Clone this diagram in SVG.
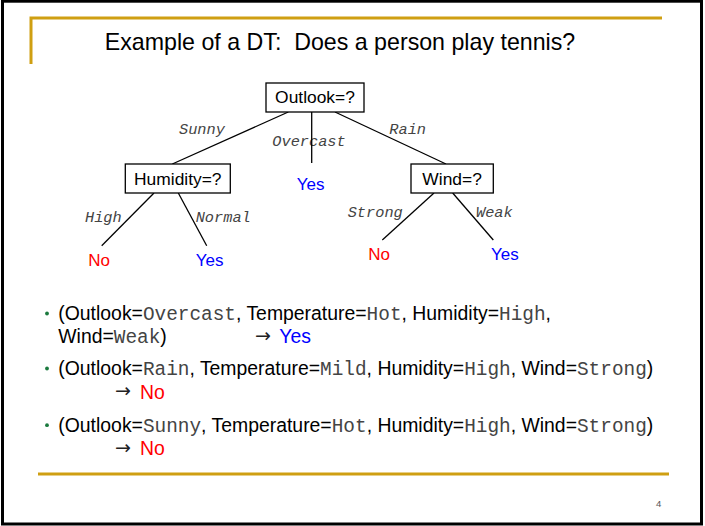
<svg xmlns="http://www.w3.org/2000/svg" width="705" height="526" viewBox="0 0 705 526">
<style>
.sans{font-family:"Liberation Sans",Arial,sans-serif}
.box{fill:#fff;stroke:#000;stroke-width:1.3}
.node{font-family:"Liberation Sans",Arial,sans-serif;font-size:17.4px;fill:#000;text-anchor:middle}
.elab{font-family:"Liberation Mono","Courier New",monospace;font-style:italic;font-size:15.3px;fill:#444}
.edge{stroke:#000;stroke-width:1.3;fill:none}
.leaf{font-family:"Liberation Sans",Arial,sans-serif;font-size:17px}
.gold{stroke:#cf9f12;stroke-width:3;fill:none}
.body{font-family:"Liberation Sans",Arial,sans-serif;font-size:19.4px;fill:#000}
.m{font-family:"Liberation Mono","Courier New",monospace;fill:#444}
.arr{font-family:"DejaVu Sans",sans-serif;font-size:19px;fill:#222}
.bul{fill:#1b7a3e}
text.yes{fill:#0000ff}
text.no{fill:#ff0000}
</style>
<rect x="0" y="0" width="705" height="526" fill="#fff"/>
<rect x="2.5" y="1.2" width="699" height="522.8" fill="none" stroke="#000" stroke-width="3"/>
<path class="gold" d="M31,64 V18 H662"/>
<line class="gold" x1="38" y1="474" x2="669" y2="474"/>
<text class="sans" x="340" y="50" font-size="23.2" text-anchor="middle" fill="#000">Example of a DT:&#160; Does a person play tennis?</text>

<g id="edge-labels">
<text class="elab" x="179" y="134">Sunny</text>
<text class="elab" x="272.3" y="146">Overcast</text>
<text class="elab" x="389.3" y="134">Rain</text>
<text class="elab" x="85" y="222">High</text>
<text class="elab" x="195.7" y="222">Normal</text>
<text class="elab" x="347.7" y="217">Strong</text>
<text class="elab" x="476" y="217">Weak</text>
</g>

<g id="connectors">
<line class="edge" x1="288.3" y1="112" x2="172.3" y2="164"/>
<line class="edge" x1="311.7" y1="112" x2="311.7" y2="163" stroke-width="2.7"/>
<line class="edge" x1="335" y1="112" x2="446" y2="164"/>
<line class="edge" x1="154" y1="193" x2="101.7" y2="245.7"/>
<line class="edge" x1="178.3" y1="193" x2="206.7" y2="245.7"/>
<line class="edge" x1="434" y1="193" x2="382.3" y2="240"/>
<line class="edge" x1="452.7" y1="193" x2="493.3" y2="240"/>
</g>

<g id="outlook">
<rect class="box" x="266" y="83" width="98" height="29"/>
<text class="node" x="315" y="103">Outlook=?</text>
</g>
<g id="humidity">
<rect class="box" x="125.3" y="164" width="105" height="29"/>
<text class="node" x="177.8" y="184.5">Humidity=?</text>
</g>
<g id="wind">
<rect class="box" x="411" y="164" width="82.3" height="29"/>
<text class="node" x="452.1" y="184.5">Wind=?</text>
</g>
<g id="leaf-overcast-yes"><text class="leaf yes" x="296.7" y="190">Yes</text></g>
<g id="leaf-high-no"><text class="leaf no" x="88.3" y="265.5">No</text></g>
<g id="leaf-normal-yes"><text class="leaf yes" x="195.7" y="265.5">Yes</text></g>
<g id="leaf-strong-no"><text class="leaf no" x="368.3" y="260">No</text></g>
<g id="leaf-weak-yes"><text class="leaf yes" x="491" y="260">Yes</text></g>

<g id="examples">
<circle class="bul" cx="47" cy="313.5" r="1.9"/>
<text class="body" x="58.3" y="320">(Outlook=<tspan class="m">Overcast</tspan>, Temperature=<tspan class="m">Hot</tspan>, Humidity=<tspan class="m">High</tspan>,</text>
<text class="body" x="58.3" y="343.3">Wind=<tspan class="m">Weak</tspan>)</text>
<text class="arr" x="255" y="342">→</text>
<text class="body yes" x="279.3" y="343.3">Yes</text>

<circle class="bul" cx="47" cy="368.5" r="1.9"/>
<text class="body" x="58.3" y="375">(Outlook=<tspan class="m">Rain</tspan>, Temperature=<tspan class="m">Mild</tspan>, Humidity=<tspan class="m">High</tspan>, Wind=<tspan class="m">Strong</tspan>)</text>
<text class="arr" x="115" y="397.2">→</text>
<text class="body no" x="140" y="398.5">No</text>

<circle class="bul" cx="47" cy="425.2" r="1.9"/>
<text class="body" x="58.3" y="431.7">(Outlook=<tspan class="m">Sunny</tspan>, Temperature=<tspan class="m">Hot</tspan>, Humidity=<tspan class="m">High</tspan>, Wind=<tspan class="m">Strong</tspan>)</text>
<text class="arr" x="115" y="453.7">→</text>
<text class="body no" x="140" y="455">No</text>
</g>

<text class="sans" x="656" y="507" font-size="9.5" fill="#555">4</text>
</svg>
